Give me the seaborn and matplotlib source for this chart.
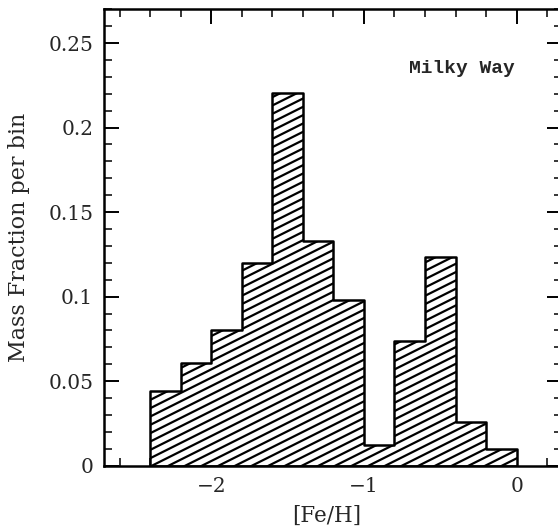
import numpy as np
import pandas as pd
import matplotlib
matplotlib.use("Agg")
import matplotlib.pyplot as plt
import matplotlib.hatch as mhatch
from matplotlib.path import Path
from matplotlib.ticker import MultipleLocator, FuncFormatter
import seaborn as sns
import warnings
warnings.filterwarnings("ignore")

# ---- data ----
bin_edges = [-2.4, -2.2, -2.0, -1.8, -1.6, -1.4, -1.2, -1.0, -0.8, -0.6, -0.4, -0.2, 0.0]
feh_centers = [-2.3, -2.1, -1.9, -1.7, -1.5, -1.3, -1.1, -0.9, -0.7, -0.5, -0.3, -0.1]
mass_fraction = [0.044, 0.0605, 0.0805, 0.120, 0.2205, 0.133, 0.098, 0.012, 0.074, 0.1235, 0.0256, 0.0099]
xlabel = "[Fe/H]"
ylabel = "Mass Fraction per bin"
label_text = "Milky Way"

# ---- custom shallow diagonal hatch for '/' ----
class ShallowHatch(mhatch.HatchPatternBase):
    N = 12
    def __init__(self, hatch, density):
        n = hatch.count('/')
        self.num_lines = (self.N + self.N // 2 + 1) if n else 0
        self.num_vertices = self.num_lines * 2

    def set_vertices_and_codes(self, vertices, codes):
        N = self.N
        c = np.arange(-N // 2, N + 1) / N
        vertices[0::2, 0] = 0.0
        vertices[0::2, 1] = c
        vertices[1::2, 0] = 1.0
        vertices[1::2, 1] = c + 0.5
        codes[0::2] = Path.MOVETO
        codes[1::2] = Path.LINETO

for i, h in enumerate(mhatch._hatch_types):
    if h is mhatch.NorthEastHatch:
        mhatch._hatch_types[i] = ShallowHatch

sns.set_style("ticks")
plt.rcParams['font.family'] = ['DejaVu Serif', 'DejaVu Sans']
plt.rcParams['hatch.linewidth'] = 1.6
plt.rcParams['hatch.color'] = 'black'

df = pd.DataFrame({"feh": feh_centers, "frac": mass_fraction})

fig = plt.figure(figsize=(5.58, 5.31), dpi=100)
ax = fig.add_axes([0.187, 0.123, 0.821, 0.8597])

sns.histplot(data=df, x="feh", weights="frac", bins=bin_edges,
             element="step", fill=True, ax=ax, legend=False)

for coll in ax.collections:
    coll.set_facecolor("white")
    coll.set_edgecolor("black")
    coll.set_hatch("/")
    coll.set_linewidth(1.8)
    coll.set_alpha(1.0)
for ln in list(ax.lines):
    ln.set_color("black")
    ln.set_linewidth(1.8)

ax.set_xlim(-2.7, 0.3)
ax.set_ylim(0, 0.27)

ax.xaxis.set_major_locator(MultipleLocator(1.0))
ax.xaxis.set_minor_locator(MultipleLocator(0.2))
ax.yaxis.set_major_locator(MultipleLocator(0.05))
ax.yaxis.set_minor_locator(MultipleLocator(0.01))
ax.yaxis.set_major_formatter(FuncFormatter(lambda v, p: "%g" % round(v, 4)))

ax.tick_params(which="both", direction="in", top=True, right=True,
               color="black", labelsize=14.5)
ax.tick_params(which="major", length=11, width=1.4, pad=8)
ax.tick_params(which="minor", length=5.5, width=1.1)
for s in ax.spines.values():
    s.set_linewidth(1.8)
    s.set_color("black")

ax.set_xlabel(xlabel, fontsize=15.5)
ax.set_ylabel(ylabel, fontsize=16)
ax.xaxis.set_label_coords(0.486, -0.085)
ax.yaxis.set_label_coords(-0.162, 0.5)

ax.text(-0.705, 0.235, label_text, family="Liberation Mono", fontweight="bold",
        fontsize=14, ha="left", va="center")

fig.savefig("out.png", dpi=100)
